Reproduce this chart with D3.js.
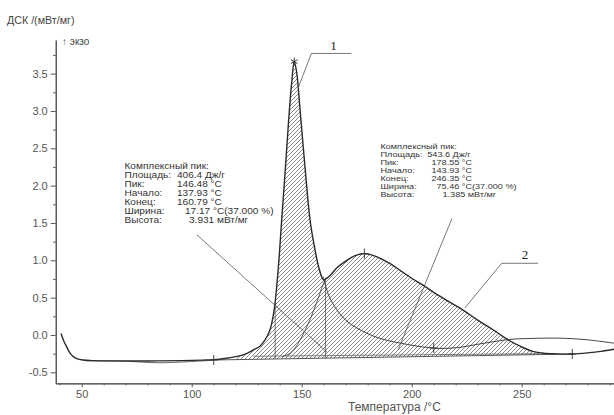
<!DOCTYPE html>
<html>
<head>
<meta charset="utf-8">
<script src="https://cdn.jsdelivr.net/npm/d3@7"></script>
<style>
  body { margin: 0; background: #fff; }
  svg { font-family: "Liberation Sans", Arial, sans-serif; }
</style>
</head>
<body>
<div id="chart"></div>
<script>
// ---- data (T in °C, DSC in mW/mg) ----
var tempTicks = [50, 100, 150, 200, 250];
var tempMinor = [40, 60, 70, 80, 90, 110, 120, 130, 140, 160, 170, 180, 190, 210, 220, 230, 240, 260, 270, 280, 290];
var dscTicks = [-0.5, 0, 0.5, 1, 1.5, 2, 2.5, 3, 3.5];
var dscMinor = [-0.25, 0.25, 0.75, 1.25, 1.75, 2.25, 2.75, 3.25, 3.75];

// measured curve
var measured = [
  [40.6, 0.02], [42, -0.09], [43.2, -0.16], [44.6, -0.24], [46.2, -0.29], [48, -0.32], [50.7, -0.335],
  [55, -0.343], [65, -0.347], [80, -0.348], [95, -0.343], [105, -0.336], [110, -0.33],
  [115, -0.315], [120, -0.29], [124, -0.26], [128, -0.2], [131, -0.15], [133.5, -0.06],
  [135.6, 0.07], [137, 0.25], [137.9, 0.43], [139.5, 0.95], [140.9, 1.54], [142.5, 2.2],
  [144, 2.85], [145.5, 3.4], [146.6, 3.66], [147.7, 3.52], [149.3, 3.0], [151.5, 2.25],
  [153.8, 1.54], [156, 1.15], [158, 0.88], [160, 0.74], [163, 0.8], [166, 0.9], [170, 0.99],
  [174, 1.06], [178.5, 1.09], [183, 1.06], [190, 0.96], [195, 0.86], [200, 0.76], [205, 0.67],
  [210, 0.57], [215, 0.48], [222, 0.36], [230, 0.2], [237, 0.07], [243, -0.05], [250, -0.16],
  [255, -0.22], [260, -0.245], [266, -0.253], [273, -0.255], [280, -0.24], [286, -0.22], [292, -0.19]
];
// second trace along the start baseline
var lowTrace = [[52, -0.345], [70, -0.352], [85, -0.372], [100, -0.355], [110, -0.338]];
// left flank of fitted peak 2
var peak2Flank = [[141, -0.29], [144.7, -0.245], [148, -0.13], [151, 0.03], [154, 0.22], [157, 0.45], [159, 0.62], [161, 0.77]];
// tail of fitted peak 1
var peak1Tail = [
  [159.8, 0.78], [162, 0.55], [165, 0.38], [170, 0.2], [176.5, 0.07], [185, -0.04], [195, -0.11],
  [205, -0.16], [210, -0.175], [215, -0.18], [222, -0.165], [230, -0.125], [237, -0.09], [244, -0.06],
  [252, -0.048], [262, -0.042], [270, -0.045], [280, -0.065], [292, -0.11]
];
// baseline of the complex peak
var baseStart = [110, -0.335];
var baseEnd = [273, -0.255];
var innerBase = [[128, -0.285], [258, -0.25]];
// onset / end verticals of peak 1
var verticalT = [137.93, 160.79];
var verticalTop = [0.43, 0.74];
// markers
var plusMarks = [[110, -0.335], [210, -0.175], [273, -0.255], [178.5, 1.09]];
var starMark = [146.6, 3.66];

var box1Labels = ["Комплексный пик:", "Площадь:", "Пик:", "Начало:", "Конец:", "Ширина:", "Высота:"];
var box1Values = ["", "406.4 Дж/г", "146.48 °C", "137.93 °C", "160.79 °C", "17.17 °C(37.000 %)", "3.931 мВт/мг"];
var box2Labels = ["Комплексный пик:", "Площадь:", "Пик:", "Начало:", "Конец:", "Ширина:", "Высота:"];
var box2Values = ["", "543.6 Дж/г", "178.55 °C", "143.93 °C", "246.35 °C", "75.46 °C(37.000 %)", "1.385 мВт/мг"];

// leader lines (data coords)
var leader1 = [[148.3, 3.3], [154.4, 3.77], [172.6, 3.77]];
var leader2 = [[224.1, 0.36], [240.9, 0.96], [257.4, 0.96]];
var leaderBox1 = [[102.4, 1.34], [161.5, -0.23]];
var leaderBox2 = [[218.3, 1.56], [193.8, -0.2]];

// ---- layout ----
var W = 614, H = 415;
var svg = d3.select("#chart").append("svg").attr("width", W).attr("height", H);

var x = d3.scaleLinear().domain([38.18, 291.95]).range([55.7, 614]);
var y = d3.scaleLinear().domain([-0.647, 3.95]).range([383.3, 40]);

var defs = svg.append("defs");
var pat = defs.append("pattern")
  .attr("id", "hatch").attr("patternUnits", "userSpaceOnUse")
  .attr("width", 4).attr("height", 4);
pat.append("path").attr("d", "M-1,1 l2,-2 M0,4 l4,-4 M3,5 l2,-2")
  .attr("stroke", "#555").attr("stroke-width", 0.7);

var line = d3.line().x(d => x(d[0])).y(d => y(d[1])).curve(d3.curveCatmullRom.alpha(0.5));
var straight = d3.line().x(d => x(d[0])).y(d => y(d[1]));

var baseAt = d3.scaleLinear().domain([baseStart[0], baseEnd[0]]).range([baseStart[1], baseEnd[1]]);

// hatched area under the peaks
var hatchPts = measured.filter(d => d[0] >= 120 && d[0] <= 273);
var area = d3.area()
  .x(d => x(d[0])).y1(d => y(d[1])).y0(d => y(baseAt(d[0])))
  .curve(d3.curveCatmullRom.alpha(0.5));
svg.append("path").datum(hatchPts).attr("d", area).attr("fill", "url(#hatch)");

// axes
var yAxis = svg.append("g").attr("transform", "translate(55.7,0)")
  .call(d3.axisLeft(y).tickValues(dscTicks).tickSize(5).tickSizeOuter(0).tickFormat(d => d.toFixed(1)));
svg.append("g").attr("transform", "translate(55.7,0)")
  .call(d3.axisLeft(y).tickValues(dscMinor).tickSize(2.5).tickFormat(""))
  .select(".domain").remove();
var xAxis = svg.append("g").attr("transform", "translate(0,383.3)")
  .call(d3.axisBottom(x).tickValues(tempTicks).tickSize(4).tickSizeOuter(0).tickFormat(d3.format("d")));
svg.append("g").attr("transform", "translate(0,383.3)")
  .call(d3.axisBottom(x).tickValues(tempMinor).tickSize(2).tickFormat(""))
  .select(".domain").remove();

svg.selectAll(".domain").attr("stroke", "#333").attr("stroke-width", 1.2);
svg.selectAll(".tick line").attr("stroke", "#555");
yAxis.selectAll("text").attr("font-size", 11).attr("fill", "#555").attr("x", -8)
  .attr("font-family", "Liberation Sans, Arial, sans-serif");
xAxis.selectAll("text").attr("font-size", 11).attr("fill", "#555").attr("y", 7)
  .attr("font-family", "Liberation Sans, Arial, sans-serif");

// curves
svg.append("path").datum(lowTrace).attr("d", line).attr("fill", "none").attr("stroke", "#555").attr("stroke-width", 0.9);
svg.append("path").datum([baseStart, baseEnd]).attr("d", straight).attr("fill", "none").attr("stroke", "#444").attr("stroke-width", 0.9);
svg.append("path").datum(innerBase).attr("d", straight).attr("fill", "none").attr("stroke", "#555").attr("stroke-width", 0.7);
svg.append("path").datum(peak2Flank).attr("d", line).attr("fill", "none").attr("stroke", "#444").attr("stroke-width", 0.9);
svg.append("path").datum(peak1Tail).attr("d", line).attr("fill", "none").attr("stroke", "#444").attr("stroke-width", 1);
svg.selectAll(".vert").data(verticalT).enter().append("line")
  .attr("x1", d => x(d)).attr("x2", d => x(d))
  .attr("y1", d => y(baseAt(d))).attr("y2", (d, i) => y(verticalTop[i]))
  .attr("stroke", "#555").attr("stroke-width", 0.8);
svg.append("path").datum(measured).attr("d", line).attr("fill", "none").attr("stroke", "#2b2b2b").attr("stroke-width", 1.4);

// markers
svg.selectAll(".plus").data(plusMarks).enter().append("path")
  .attr("d", d => "M" + (x(d[0]) - 4) + "," + y(d[1]) + "h8M" + x(d[0]) + "," + (y(d[1]) - 5) + "v10")
  .attr("stroke", "#333").attr("stroke-width", 0.9);
svg.append("path")
  .attr("d", d3.symbol().type(d3.symbolAsterisk).size(40)())
  .attr("transform", "translate(" + x(starMark[0]) + "," + y(starMark[1]) + ")")
  .attr("stroke", "#222").attr("stroke-width", 0.9);

// leader lines
[leader1, leader2, leaderBox1, leaderBox2].forEach(function (pts) {
  svg.append("path").datum(pts).attr("d", straight).attr("fill", "none")
    .attr("stroke", "#555").attr("stroke-width", 0.8);
});
svg.append("text").attr("x", x(164.5)).attr("y", y(3.81)).attr("text-anchor", "middle")
  .attr("font-family", "Liberation Serif, serif").attr("font-size", 13).attr("fill", "#222").text("1");
svg.append("text").attr("x", x(251.5)).attr("y", y(1.02)).attr("text-anchor", "middle")
  .attr("font-family", "Liberation Serif, serif").attr("font-size", 13).attr("fill", "#222").text("2");

// info boxes (text is a bit stretched sideways in the original)
function infoBox(labels, values, left, top, step, offs, size) {
  var g = svg.append("g").attr("font-size", size).attr("fill", "#333")
    .attr("transform", "translate(" + left + "," + top + ") scale(1.2,1)");
  labels.forEach(function (t, i) {
    g.append("text").attr("x", 0).attr("y", i * step).text(t);
    if (values[i]) g.append("text").attr("x", offs[i] / 1.2).attr("y", i * step).text(values[i]);
  });
}
infoBox(box1Labels, box1Values, 124.5, 168.8, 9.05, [0, 52.5, 52.5, 52.5, 52.5, 60.5, 64.5], 8.4);
infoBox(box2Labels, box2Values, 380.5, 149, 7.95, [0, 46.8, 51, 51, 51, 56, 62], 7.6);

// titles
svg.append("text").attr("x", 7).attr("y", 24).attr("font-size", 10.7).attr("fill", "#444").text("ДСК /(мВт/мг)");
svg.append("text").attr("x", 62).attr("y", 45).attr("font-size", 10).attr("fill", "#444").text("↑ экзо");
svg.append("text").attr("x", 348).attr("y", 411).attr("font-size", 12).attr("fill", "#555").text("Температура /°C");
</script>
</body>
</html>
